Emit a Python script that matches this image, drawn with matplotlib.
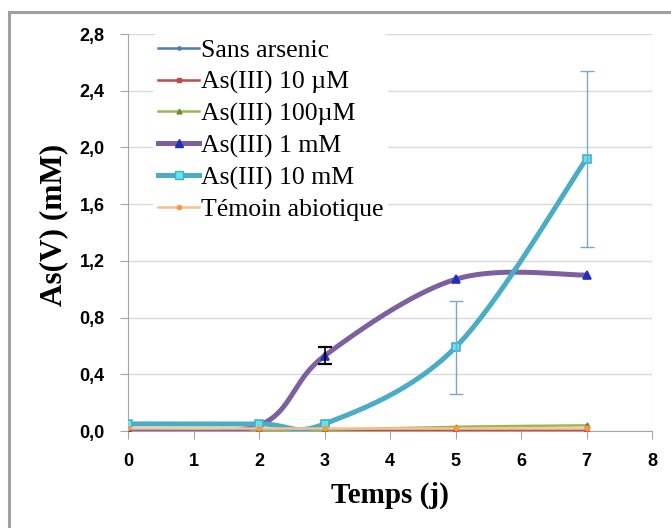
import numpy as np
import matplotlib
matplotlib.use('Agg')
import matplotlib.pyplot as plt
from matplotlib.ticker import FuncFormatter, MultipleLocator
from matplotlib.patches import Rectangle

# Data
days = [0, 2, 3, 5, 7]
sans_arsenic = [0.0, 0.0, 0.0, 0.0, 0.0]
as_10uM = [0.01, 0.01, 0.01, 0.01, 0.01]
as_100uM = [0.01, 0.01, 0.01, 0.03, 0.04]
as_1mM = [0.0, 0.04, 0.53, 1.07, 1.10]
as_1mM_err = [0.0, 0.0, 0.06, 0.0, 0.0]
as_10mM = [0.05, 0.05, 0.05, 0.59, 1.92]
as_10mM_err = [0.0, 0.0, 0.0, 0.33, 0.62]
temoin = [0.02, 0.02, 0.02, 0.02, 0.02]


def smooth(x, y, n=40):
    # Excel-like smoothed line (Bezier through points, Catmull-Rom control points)
    pts = np.column_stack([x, y]).astype(float)
    p = np.vstack([pts[0], pts, pts[-1]])
    t = np.linspace(0, 1, n)[:, None]
    out = []
    for i in range(1, len(p) - 2):
        p0, p1, p2, p3 = p[i - 1], p[i], p[i + 1], p[i + 2]
        b1 = p1 + (p2 - p0) / 6
        b2 = p2 - (p3 - p1) / 6
        seg = ((1 - t) ** 3) * p1 + 3 * ((1 - t) ** 2) * t * b1 + 3 * (1 - t) * t ** 2 * b2 + t ** 3 * p2
        out.append(seg)
    out = np.vstack(out)
    return out[:, 0], out[:, 1]


fig = plt.figure(figsize=(6.71, 5.28), dpi=100)
ax = fig.add_axes([0.1908, 0.1837, 0.7809, 0.7519])

# outer frame (only left/top visible)
fig.patches.append(Rectangle((9 / 671, -0.1), 1.2, 1.1 - 12 / 528, transform=fig.transFigure,
                             fill=False, edgecolor='#a0a0a0', linewidth=2.2))

series = [
    ('Sans arsenic', sans_arsenic, None, '#4a7ebb', '#4a7ebb', 'D', 2, 1.8, 2),
    ('As(III) 10 µM', as_10uM, None, '#be4b48', '#be4b48', 's', 3.5, 1.8, 3),
    ('As(III) 100µM', as_100uM, None, '#98b954', '#6a8c2e', '^', 3.5, 1.8, 4),
    ('As(III) 1 mM', as_1mM, as_1mM_err, '#7d60a0', '#1f2fbf', '^', 6, 3.6, 5),
    ('As(III) 10 mM', as_10mM, as_10mM_err, '#4bacc6', '#5ce6f0', 's', 6, 3.6, 6),
    ('Témoin abiotique', temoin, None, '#f7c08e', '#f79646', 'o', 3, 1.8, 7),
]

err_colors = {'As(III) 1 mM': 'black', 'As(III) 10 mM': '#7ea6c8'}

for name, vals, err, lc, mc, mk, ms, lw, z in series:
    edge = lc if name == 'As(III) 10 mM' else mc
    xs, ys = smooth(days, vals)
    ax.plot(xs, ys, color=lc, lw=lw, zorder=z, solid_capstyle='round')
    ax.plot(days, vals, linestyle='none', marker=mk, ms=ms, color=mc,
            markeredgecolor=edge, mew=1.2, zorder=z + 0.5)
    ax.plot([], [], color=lc, lw=lw, marker=mk, ms=ms, markerfacecolor=mc,
            markeredgecolor=edge, label=name)
    if err is not None:
        idx = [i for i, e in enumerate(err) if e > 0]
        thick = name == 'As(III) 1 mM'
        ax.errorbar([days[i] for i in idx], [vals[i] for i in idx], yerr=[err[i] for i in idx],
                    fmt='none', ecolor=err_colors[name], elinewidth=1.2 if thick else 1.0,
                    capsize=5, capthick=1.6 if thick else 1.0, zorder=z + 1)

ax.set_xlim(0, 8)
ax.set_ylim(0, 2.8)
ax.xaxis.set_major_locator(MultipleLocator(1))
ax.yaxis.set_major_locator(MultipleLocator(0.4))
ax.yaxis.set_major_formatter(FuncFormatter(lambda v, p: ('%.1f' % v).replace('.', ',')))
ax.grid(axis='y', color='#d9d9d9', lw=1.0)
ax.set_axisbelow(True)
for s in ['top', 'right']:
    ax.spines[s].set_visible(False)
for s in ['left', 'bottom']:
    ax.spines[s].set_color('#a6a6a6')
ax.tick_params(axis='both', colors='#a6a6a6', length=6, labelcolor='black')
ax.tick_params(axis='x', pad=10)
ax.tick_params(axis='y', pad=11)
for lab in ax.get_xticklabels() + ax.get_yticklabels():
    lab.set_fontfamily('Liberation Sans')
    lab.set_fontweight('bold')
    lab.set_fontsize(13)
# vertical boundary at x=8 like the plot area edge
ax.axvline(8, color='#e6e6e6', lw=1.0, zorder=0)

ax.set_xlabel('Temps (j)', fontfamily='Liberation Serif', fontweight='bold', fontsize=21, labelpad=8)
ax.set_ylabel('As(V) (mM)', fontfamily='Liberation Serif', fontweight='bold', fontsize=22.5)
ax.yaxis.set_label_coords(-0.114, 0.519)

leg = ax.legend(loc='upper left', bbox_to_anchor=(0.048, 1.0), frameon=True, edgecolor='none',
                framealpha=1, prop={'family': 'Liberation Serif', 'size': 18.5},
                handlelength=1.6, handletextpad=0.05, labelspacing=0.33, borderpad=0.2,
                borderaxespad=0)

fig.savefig('out.png', dpi=100)
